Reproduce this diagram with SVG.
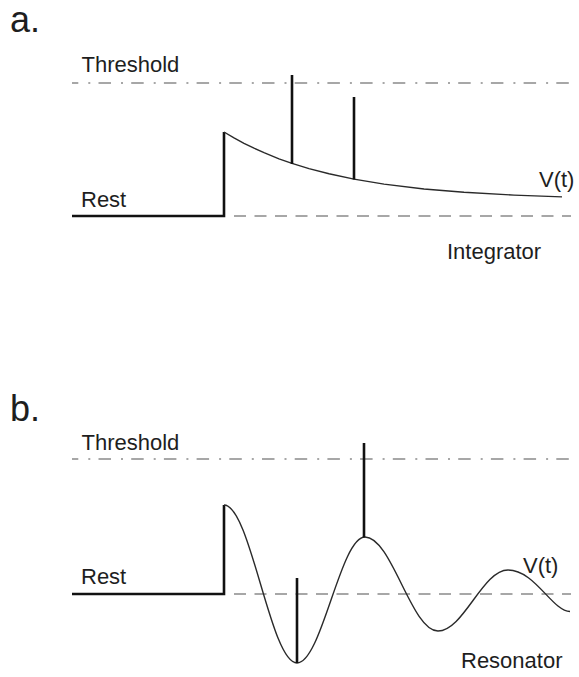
<svg xmlns="http://www.w3.org/2000/svg" width="579" height="677" viewBox="0 0 579 677">
<style>
  text { font-family: "Liberation Sans", Arial, sans-serif; fill: #1e1e1e; }
  .lbl { font-size: 22px; }
  .panel { font-size: 36px; }
  .thr { stroke: #8a8a8a; stroke-width: 1.4; fill: none; stroke-dasharray: 12.5 10 2 8.2; stroke-dashoffset: 6.2; }
  .rest { stroke: #8a8a8a; stroke-width: 1.4; fill: none; stroke-dasharray: 12 8.5; }
  .thick { stroke: #111; stroke-width: 2.6; fill: none; stroke-linecap: butt; stroke-linejoin: miter; }
  .curve { stroke: #2a2a2a; stroke-width: 1.4; fill: none; }
</style>
<rect width="579" height="677" fill="#fff"/>

<g id="panel-a">
  <text class="panel" x="10" y="32">a.</text>
  <g id="a-threshold">
    <line class="thr" x1="72" y1="83" x2="571" y2="83"/>
    <text class="lbl" x="81.5" y="72">Threshold</text>
  </g>
  <g id="a-rest">
    <line class="rest" x1="234" y1="216" x2="571" y2="216"/>
    <text class="lbl" x="81" y="207">Rest</text>
  </g>
  <g id="a-trace">
    <path class="thick" d="M72,216 H224 V132"/>
    <path class="curve" d="M224,132 L234,137.9 L244,143.3 L254,148.2 L264,152.7 L279,158.8 L292,163.3 L309,168.6 L329,173.8 L354,179.1 L384,184.1 L424,189 L464,192.3 L514,195.1 L562,196.9"/>
    <line class="thick" x1="292" y1="164" x2="292" y2="75"/>
    <line class="thick" x1="354" y1="179.5" x2="354" y2="97"/>
    <text class="lbl" x="539" y="187">V(t)</text>
  </g>
  <text id="a-caption" class="lbl" x="447" y="259">Integrator</text>
</g>

<g id="panel-b">
  <text class="panel" x="10" y="421">b.</text>
  <g id="b-threshold">
    <line class="thr" x1="72" y1="459" x2="571" y2="459"/>
    <text class="lbl" x="81.5" y="449.5">Threshold</text>
  </g>
  <g id="b-rest">
    <line class="rest" x1="234" y1="594" x2="571" y2="594"/>
    <text class="lbl" x="81" y="583.5">Rest</text>
  </g>
  <g id="b-trace">
    <path class="thick" d="M72,594 H224 V505"/>
    <path class="curve" d="M224,505 C250.6,505 270.4,663 297,663 C321.7,663 340.3,537 365,537 C391.6,537 411.4,631 438,631 C463.5,631 482.5,570 508,570 C535,570 552,611 570,611.5"/>
    <line class="thick" x1="297" y1="663" x2="297" y2="578"/>
    <line class="thick" x1="364" y1="537.5" x2="364" y2="443"/>
    <text class="lbl" x="523" y="573">V(t)</text>
  </g>
  <text id="b-caption" class="lbl" x="461" y="668">Resonator</text>
</g>
</svg>
